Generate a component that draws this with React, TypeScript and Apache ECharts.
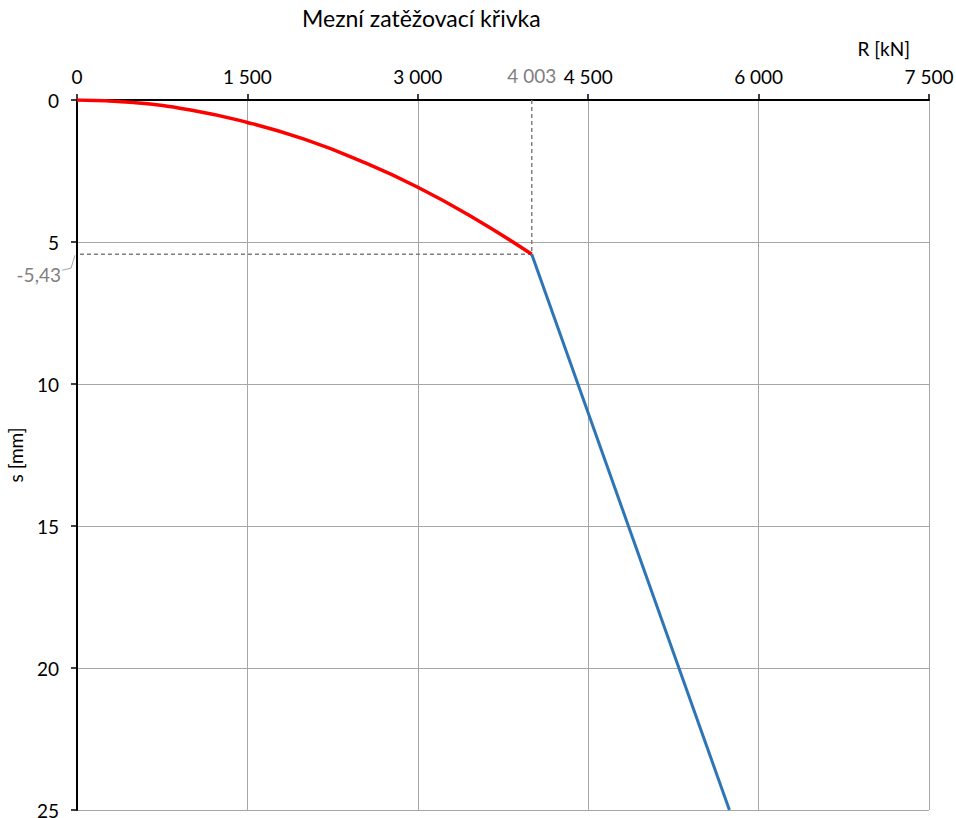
import React, { useEffect, useRef } from "react";
import * as echarts from "echarts";

// Load–settlement curve: R [kN] on the top axis, s [mm] downward
const rTicks = [0, 1500, 3000, 4500, 6000, 7500];
const sTicks = [0, 5, 10, 15, 20, 25];

// parabolic part up to the limit point
const curveR = [0, 500, 1000, 1500, 2000, 2500, 3000, 3500, 4003];
const curveS = [0, 0.09, 0.35, 0.79, 1.38, 2.15, 3.07, 4.17, 5.43];

// linear continuation past the limit point
const lineR = [4003, 5743];
const lineS = [5.43, 25];

// limit point
const limitR = 4003;
const limitS = 5.43;

const FONT = "Lato, 'Open Sans', sans-serif";

const fmtThousands = (v: number) =>
  String(Math.round(v)).replace(/\B(?=(\d{3})+(?!\d))/g, " ");
const fmtDecimal = (v: number) => v.toFixed(2).replace(".", ",");

export default function App() {
  const ref = useRef<HTMLDivElement>(null);

  useEffect(() => {
    if (!ref.current) return;
    const chart = echarts.init(ref.current, null, { renderer: "svg" });

    const option: any = {
      animation: false,
      backgroundColor: "#ffffff",
      title: {
        text: "Mezní zatěžovací křivka",
        left: 302,
        top: 6,
        padding: 0,
        textStyle: { fontFamily: FONT, fontSize: 23, fontWeight: "normal", color: "#000" },
      },
      grid: { left: 77, right: 27, top: 100, bottom: 8, outerBoundsMode: "none", containLabel: false },
      xAxis: {
        type: "value",
        position: "top",
        min: rTicks[0],
        max: rTicks[rTicks.length - 1],
        interval: 1500,
        axisLine: { show: true, onZero: false, lineStyle: { color: "#000", width: 2 } },
        axisTick: { show: true, length: 6, lineStyle: { color: "#000", width: 1.5 } },
        axisLabel: {
          margin: 14,
          fontFamily: FONT,
          fontSize: 19,
          color: "#000",
          formatter: (v: number) => fmtThousands(v),
        },
        splitLine: { show: true, lineStyle: { color: "#a6a6a6", width: 1 } },
      },
      yAxis: {
        type: "value",
        inverse: true,
        min: sTicks[0],
        max: sTicks[sTicks.length - 1],
        interval: 5,
        name: "s [mm]",
        nameLocation: "middle",
        nameRotate: 90,
        nameGap: 52,
        nameTextStyle: { fontFamily: FONT, fontSize: 19, color: "#000" },
        axisLine: { show: true, onZero: false, lineStyle: { color: "#000", width: 2 } },
        axisTick: { show: true, length: 6, lineStyle: { color: "#000", width: 1.5 } },
        axisLabel: { margin: 18, fontFamily: FONT, fontSize: 19, color: "#000" },
        splitLine: { show: true, lineStyle: { color: "#a6a6a6", width: 1 } },
      },
      series: [
        {
          type: "line",
          name: "guides",
          data: [
            [limitR, 0],
            [limitR, limitS],
            [0, limitS],
          ],
          showSymbol: false,
          lineStyle: { color: "#7f7f7f", width: 1.5, type: [4, 3] },
          z: 3,
        },
        {
          type: "line",
          name: "curve",
          data: curveR.map((r, i) => [r, curveS[i]]),
          smooth: true,
          showSymbol: false,
          lineStyle: { color: "#ff0000", width: 3.5 },
          z: 4,
        },
        {
          type: "line",
          name: "linear",
          data: lineR.map((r, i) => [r, lineS[i]]),
          showSymbol: false,
          lineStyle: { color: "#2e75b6", width: 3 },
          z: 4,
        },
      ],
    };
    chart.setOption(option);

    // annotations placed from the data through the axis scales
    const pTop = chart.convertToPixel({ gridIndex: 0 }, [limitR, 0]) as number[];
    const pLeft = chart.convertToPixel({ gridIndex: 0 }, [0, limitS]) as number[];
    chart.setOption({
      graphic: [
        {
          type: "text",
          x: 910,
          y: 48,
          style: {
            text: "R [kN]",
            fontFamily: FONT,
            fontSize: 19,
            fill: "#000",
            align: "right",
            verticalAlign: "middle",
          },
        },
        {
          type: "text",
          x: pTop[0],
          y: pTop[1] - 25,
          style: {
            text: fmtThousands(limitR),
            fontFamily: FONT,
            fontSize: 19,
            fill: "#7f7f7f",
            align: "center",
            verticalAlign: "middle",
          },
        },
        {
          type: "text",
          x: pLeft[0] - 16,
          y: pLeft[1] + 20,
          style: {
            text: fmtDecimal(-limitS),
            fontFamily: FONT,
            fontSize: 19,
            fill: "#7f7f7f",
            align: "right",
            verticalAlign: "middle",
          },
        },
        {
          type: "polyline",
          shape: {
            points: [
              [pLeft[0] - 15, pLeft[1] + 16],
              [pLeft[0] - 6, pLeft[1] + 14],
              [pLeft[0] - 2, pLeft[1] + 1],
            ],
          },
          style: { stroke: "#a6a6a6", lineWidth: 1, fill: "none" },
        },
      ],
    });

    return () => chart.dispose();
  }, []);

  return (
    <div
      ref={ref}
      style={{ position: "fixed", left: 0, top: 0, width: 956, height: 818 }}
    />
  );
}
